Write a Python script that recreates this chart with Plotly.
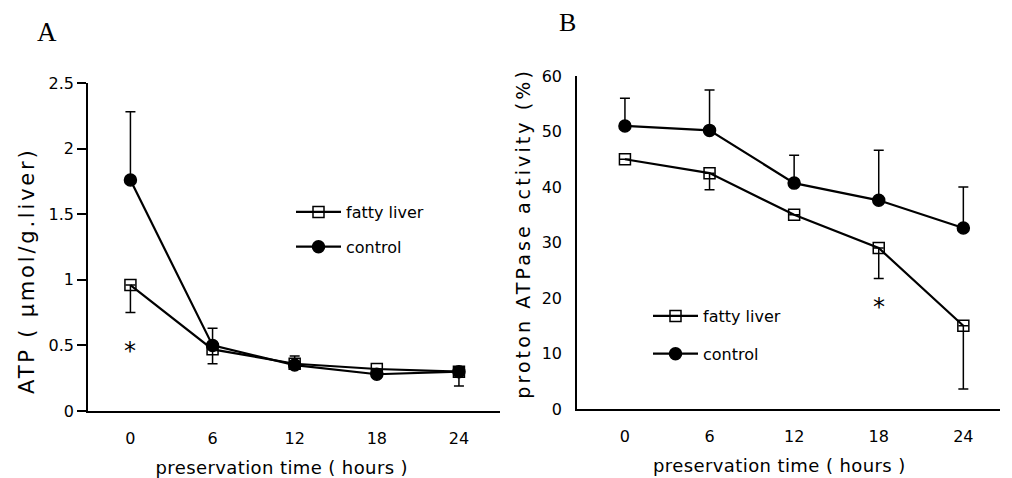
import plotly.graph_objects as go

hours = [0, 6, 12, 18, 24]
x_ticks = [0, 6, 12, 18, 24]

# Panel A: ATP (umol/g liver)
atp_fatty = [0.96, 0.47, 0.36, 0.32, 0.30]
atp_fatty_err_minus = [0.21, 0.11, 0.0, 0.0, 0.11]
atp_control = [1.76, 0.50, 0.35, 0.28, 0.30]
atp_control_err_plus = [0.52, 0.13, 0.07, 0.0, 0.03]

# Panel B: proton ATPase activity (%)
pa_fatty = [45.0, 42.5, 35.0, 29.0, 15.0]
pa_fatty_err_minus = [0.0, 3.0, 0.0, 5.5, 11.4]
pa_control = [51.0, 50.2, 40.7, 37.6, 32.6]
pa_control_err_plus = [5.0, 7.3, 5.0, 9.0, 7.4]

atp_ticks = [0, 0.5, 1, 1.5, 2, 2.5]
atp_ticklabels = ["0", "0.5", "1", "1.5", "2", "2.5"]
pa_ticks = [0, 10, 20, 30, 40, 50, 60]

FONT = "DejaVu Sans"
W, H = 1004, 470   # page body has an 8px margin
OFF = 8


def fx(px):
    return (px - OFF) / W


def fy(py):
    return 1 - (py - OFF) / H


fig = go.Figure()


def add_series(x, y, name, symbol, xa, ya, legend, plus=None, minus=None):
    err = dict(type="data", symmetric=False,
               array=plus if plus is not None else [0] * len(y),
               arrayminus=minus if minus is not None else [0] * len(y),
               color="black", thickness=1.5, width=5)
    fig.add_trace(go.Scatter(
        x=x, y=y, name=name, mode="lines+markers",
        line=dict(color="black", width=2.2),
        marker=dict(symbol=symbol, size=11 if symbol == "square-open" else 12,
                    color="black", line=dict(color="black", width=1.5)),
        error_y=err, xaxis=xa, yaxis=ya, legend=legend, legendgroup=legend + name,
    ))


add_series(hours, atp_fatty, "fatty liver", "square-open", "x", "y", "legend", minus=atp_fatty_err_minus)
add_series(hours, atp_control, "control", "circle", "x", "y", "legend", plus=atp_control_err_plus)
add_series(hours, pa_fatty, "fatty liver", "square-open", "x2", "y2", "legend2", minus=pa_fatty_err_minus)
add_series(hours, pa_control, "control", "circle", "x2", "y2", "legend2", plus=pa_control_err_plus)

axis_common = dict(showgrid=False, zeroline=False, showline=True, linecolor="black",
                   linewidth=1.5, automargin=False,
                   tickfont=dict(family=FONT, size=16, color="black"))

NB = "\u00a0"


def spaced(text, px):
    return '<span style="letter-spacing:%.1fpx">%s</span>' % (px, text)


fig.update_layout(
    width=W, height=H,
    margin=dict(l=0, r=0, t=0, b=0),
    paper_bgcolor="white", plot_bgcolor="white",
    font=dict(family=FONT, color="black"),
    xaxis=dict(domain=[fx(88), fx(500)], range=[-3.1, 27], tickvals=x_ticks,
               ticks="outside", ticklen=12, tickcolor="rgba(0,0,0,0)",
               title=dict(text=spaced("preservation time ( hours )" + NB * 4, 0.4),
                          font=dict(family=FONT, size=18), standoff=14),
               anchor="y", **axis_common),
    yaxis=dict(domain=[fy(411), fy(83)], range=[0, 2.5], tickvals=atp_ticks, ticktext=atp_ticklabels,
               ticks="outside", ticklen=9, tickcolor="black", tickwidth=1.5,
               title=dict(text=spaced("ATP ( \u03bcmol/g.liver)" + NB * 5, 2.8),
                          font=dict(family=FONT, size=21), standoff=8),
               anchor="x", **axis_common),
    xaxis2=dict(domain=[fx(577), fx(1000)], range=[-3.4, 26.6], tickvals=x_ticks,
                ticks="outside", ticklen=12, tickcolor="rgba(0,0,0,0)",
                title=dict(text=spaced("preservation time ( hours )" + NB * 3, 0.4),
                           font=dict(family=FONT, size=18), standoff=14),
                anchor="y2", **axis_common),
    yaxis2=dict(domain=[fy(409), fy(76)], range=[0, 60], tickvals=pa_ticks,
                ticks="outside", ticklen=10, tickcolor="rgba(0,0,0,0)",
                title=dict(text=spaced(NB * 2 + "proton ATPase activity (%)", 3.1),
                           font=dict(family=FONT, size=19), standoff=6),
                anchor="x2", **axis_common),
    legend=dict(x=fx(291), y=fy(195), xanchor="left", yanchor="top", bgcolor="rgba(0,0,0,0)",
                font=dict(family=FONT, size=16), traceorder="grouped", tracegroupgap=11,
                itemwidth=45),
    legend2=dict(x=fx(648), y=fy(299), xanchor="left", yanchor="top", bgcolor="rgba(0,0,0,0)",
                 font=dict(family=FONT, size=16), traceorder="grouped", tracegroupgap=14,
                 itemwidth=45),
    annotations=[
        dict(text="*", x=0, y=0.5, xref="x", yref="y", showarrow=False,
             font=dict(family="DejaVu Sans", size=24, color="black"), yshift=-6),
        dict(text="*", x=18, y=19.5, xref="x2", yref="y2", showarrow=False,
             font=dict(family="DejaVu Sans", size=24, color="black"), yshift=-6),
        dict(text="A", x=fx(47), y=fy(32), xref="paper", yref="paper", showarrow=False,
             xanchor="center", yanchor="middle",
             font=dict(family="Liberation Serif", size=27, color="black")),
        dict(text="B", x=fx(567), y=fy(22), xref="paper", yref="paper", showarrow=False,
             xanchor="center", yanchor="middle",
             font=dict(family="Liberation Serif", size=26, color="black")),
    ],
)

fig.write_html("out.html")
